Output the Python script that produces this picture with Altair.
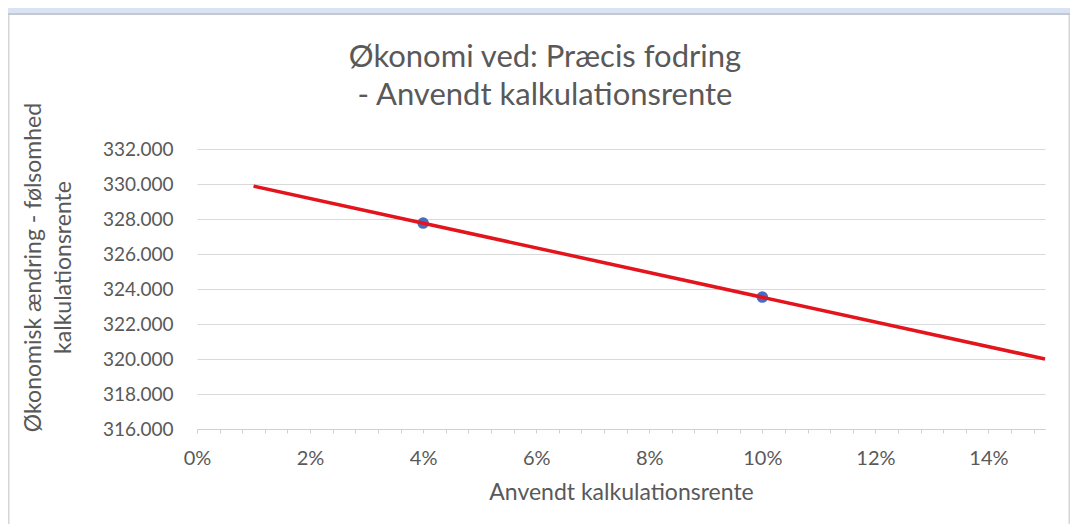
import altair as alt
import pandas as pd

# ---- data ----
rate_points = [0.04, 0.10]
value_points = [327770, 323540]

trend_rates = [0.01, 0.15]
trend_values = [329880, 320000]

y_ticks = [316000, 318000, 320000, 322000, 324000, 326000, 328000, 330000, 332000]
x_ticks = [round(k * 0.004, 3) for k in range(38)]

title_lines = ["Økonomi ved: Præcis fodring", "- Anvendt kalkulationsrente"]
x_title = "Anvendt kalkulationsrente"
y_title = ["Økonomisk ændring - følsomhed", "kalkulationsrente"]

FONT = "Lato"
GREY = "#595959"
W, H = 848, 280
PL, PT, PR, PB = 189, 141, 25, 95

pts = pd.DataFrame({"rate": rate_points, "value": value_points})
trend = pd.DataFrame({"rate": trend_rates, "value": trend_values})
one = pd.DataFrame({"k": [0]})

x_enc = alt.X(
    "rate:Q",
    scale=alt.Scale(domain=[0, 0.15], nice=False, zero=False),
    axis=alt.Axis(
        values=x_ticks,
        labelExpr="abs(datum.value*50 - round(datum.value*50)) < 0.000001 ? format(datum.value, '.0%') : ''",
        grid=False,
        domainColor="#d0d0d0",
        tickColor="#d0d0d0",
        tickSize=4,
        labelPadding=15,
        labelFlush=False,
        labelOverlap=False,
        labelFont=FONT,
        labelFontSize=20,
        labelColor=GREY,
        title=x_title,
        titleFont=FONT,
        titleFontSize=23,
        titleFontWeight="normal",
        titleColor=GREY,
        titleBaseline="middle",
        titleY=63,
    ),
)
y_enc = alt.Y(
    "value:Q",
    scale=alt.Scale(domain=[316000, 332000], nice=False, zero=False),
    axis=alt.Axis(
        values=y_ticks,
        labelExpr="replace(format(datum.value, ',.0f'), ',', '.')",
        domain=False,
        ticks=False,
        grid=True,
        gridColor="#d9d9d9",
        gridWidth=1.2,
        labelPadding=24,
        labelFont=FONT,
        labelFontSize=19,
        labelColor=GREY,
        title=y_title,
        titleFont=FONT,
        titleFontSize=23,
        titleFontWeight="normal",
        titleColor=GREY,
        titleLineHeight=30,
        titleBaseline="middle",
        titleX=-164,
        titleY=118,
    ),
)

band = alt.Chart(one).mark_rect(color="#dae3f3").encode(
    x=alt.value(-PL), x2=alt.value(W + PR), y=alt.value(-PT), y2=alt.value(-PT + 5)
)
shade = alt.Chart(one).mark_rect(color="#c4c8cf").encode(
    x=alt.value(-PL), x2=alt.value(W + PR), y=alt.value(-PT + 5), y2=alt.value(-PT + 7)
)
left_border = alt.Chart(one).mark_rect(color="#d6d6d6").encode(
    x=alt.value(-PL), x2=alt.value(-PL + 1.5), y=alt.value(-PT + 7), y2=alt.value(H + PB)
)
right_border = alt.Chart(one).mark_rect(color="#d6d6d6").encode(
    x=alt.value(W + PR - 1.5), x2=alt.value(W + PR), y=alt.value(-PT + 7), y2=alt.value(H + PB)
)

points = alt.Chart(pts).mark_circle(size=135, color="#4a6cc0", opacity=1).encode(x=x_enc, y=y_enc)
line = alt.Chart(trend).mark_line(color="#e3141b", strokeWidth=3.5).encode(x=x_enc, y=y_enc)

chart = (
    alt.layer(band, shade, left_border, right_border, points, line)
    .properties(
        width=W,
        height=H,
        autosize=alt.AutoSizeParams(type="none"),
        padding={"left": PL, "top": PT, "right": PR, "bottom": PB},
        background="white",
        title=alt.TitleParams(
            title_lines,
            font=FONT,
            fontSize=31,
            fontWeight="normal",
            color=GREY,
            lineHeight=38,
            anchor="middle",
            frame="group",
            dx=-76,
            offset=0,
            dy=104,
        ),
    )
    .configure_view(strokeWidth=0, stroke="transparent")
)

chart.save("out.html", embed_options={"renderer": "svg", "actions": False})
